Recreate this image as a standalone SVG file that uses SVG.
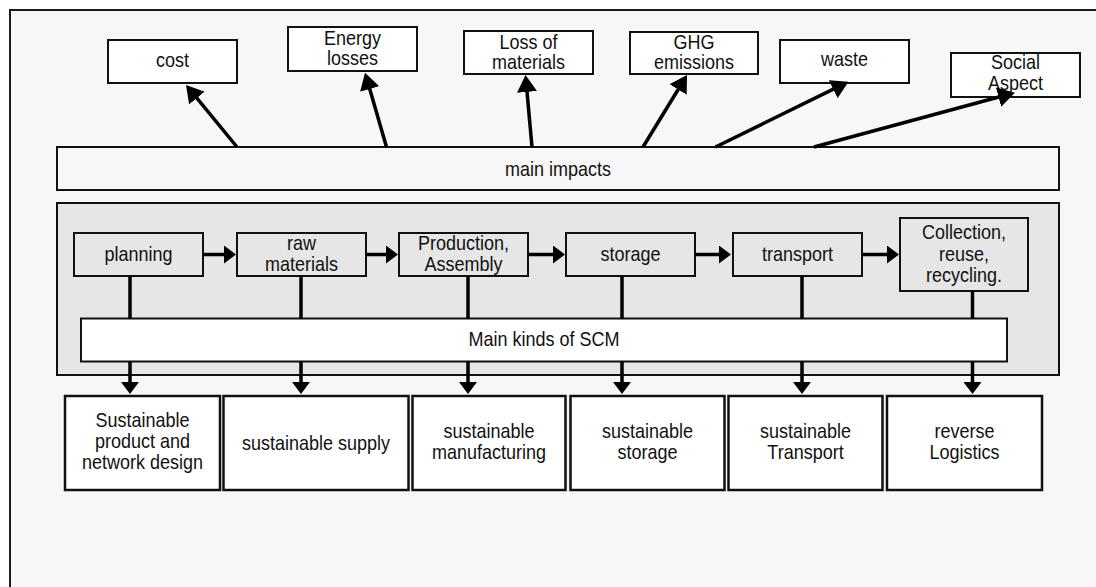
<svg xmlns="http://www.w3.org/2000/svg" width="1096" height="587" viewBox="0 0 1096 587">
  <style>
    text { font-family: "Liberation Sans", Arial, sans-serif; font-size: 20px; fill: #111; text-anchor: middle; transform-box: fill-box; transform-origin: center; transform: scaleX(0.9); }
    .box { fill: #ffffff; stroke: #111; stroke-width: 2; }
    .bbox { fill: #ffffff; stroke: #111; stroke-width: 2.5; }
    .gbox { fill: #e6e6e6; stroke: #111; stroke-width: 2; }
    .conn { stroke: #000; stroke-width: 3.5; fill: none; }
    .plain { stroke: #000; stroke-width: 3.5; fill: none; }
  </style>
  <defs>
    <marker id="ah" markerUnits="userSpaceOnUse" markerWidth="17" markerHeight="20" refX="7" refY="10" orient="auto" viewBox="0 0 17 20">
      <path d="M0,0 L17,10 L0,20 z" fill="#000"/>
    </marker>
    <marker id="ahs" markerUnits="userSpaceOnUse" markerWidth="12" markerHeight="18" refX="2" refY="9" orient="auto" viewBox="0 0 12 18">
      <path d="M0,0 L12,9 L0,18 z" fill="#000"/>
    </marker>
  </defs>
  <rect x="0" y="0" width="1096" height="587" fill="#ffffff"/>
  <rect id="frame" x="10" y="10" width="1100" height="600" fill="#f7f7f7" stroke="#1a1a1a" stroke-width="2"/>

  <g id="cost"><rect class="box" x="108" y="40" width="129" height="43"/><text x="172.5" y="67">cost</text></g>
  <g id="energy"><rect class="box" x="288" y="27" width="129" height="44"/><text x="352.5" y="45">Energy</text><text x="352.5" y="65">losses</text></g>
  <g id="loss"><rect class="box" x="464" y="31" width="129" height="43"/><text x="528.5" y="49">Loss of</text><text x="528.5" y="69">materials</text></g>
  <g id="ghg"><rect class="box" x="630" y="32" width="128" height="42"/><text x="694" y="49.5">GHG</text><text x="694" y="69.5">emissions</text></g>
  <g id="waste"><rect class="box" x="780" y="40" width="129" height="43"/><text x="844.5" y="66.5">waste</text></g>
  <g id="social"><rect class="box" x="951" y="53" width="129" height="44"/><text x="1015.5" y="69.5">Social</text><text x="1015.5" y="90.5">Aspect</text></g>

  <g id="impacts"><rect x="57" y="147" width="1002" height="43" fill="#f7f7f7" stroke="#111" stroke-width="2"/><text x="558" y="176">main impacts</text></g>

  <g id="panel"><rect class="gbox" x="57" y="203" width="1002" height="172"/></g>

  <g id="planning"><rect class="gbox" x="74" y="233" width="129" height="43"/><text x="138.5" y="261">planning</text></g>
  <g id="raw"><rect class="gbox" x="237" y="233" width="129" height="43"/><text x="301.5" y="250">raw</text><text x="301.5" y="271.5">materials</text></g>
  <g id="production"><rect class="gbox" x="399" y="233" width="129" height="43"/><text x="463.5" y="250">Production,</text><text x="463.5" y="271.5">Assembly</text></g>
  <g id="storage"><rect class="gbox" x="566" y="233" width="129" height="43"/><text x="630.5" y="261">storage</text></g>
  <g id="transport"><rect class="gbox" x="733" y="233" width="129" height="43"/><text x="797.5" y="261">transport</text></g>
  <g id="collection"><rect class="gbox" x="900" y="218" width="128" height="73"/><text x="964" y="239.5">Collection,</text><text x="964" y="261">reuse,</text><text x="964" y="282">recycling.</text></g>

  <g id="scm"><rect class="box" x="81" y="318.5" width="926" height="43"/><text x="544" y="346.5">Main kinds of SCM</text></g>

  <g id="b1"><rect class="bbox" x="65" y="396" width="155" height="94"/><text x="142.5" y="427.5">Sustainable</text><text x="142.5" y="448.5">product and</text><text x="142.5" y="469.5">network design</text></g>
  <g id="b2"><rect class="bbox" x="223.5" y="396" width="185" height="94"/><text x="316" y="450">sustainable supply</text></g>
  <g id="b3"><rect class="bbox" x="412.5" y="396" width="153" height="94"/><text x="489" y="438.5">sustainable</text><text x="489" y="459.5">manufacturing</text></g>
  <g id="b4"><rect class="bbox" x="570.5" y="396" width="154" height="94"/><text x="647.5" y="438.5">sustainable</text><text x="647.5" y="459.5">storage</text></g>
  <g id="b5"><rect class="bbox" x="728.5" y="396" width="154" height="94"/><text x="805.5" y="438.5">sustainable</text><text x="805.5" y="459.5">Transport</text></g>
  <g id="b6"><rect class="bbox" x="887" y="396" width="155" height="94"/><text x="964.5" y="438.5">reverse</text><text x="964.5" y="459.5">Logistics</text></g>

  <g id="connectors">
    <line class="conn" x1="237" y1="147" x2="192.4" y2="92.7" marker-end="url(#ah)"/>
    <line class="conn" x1="386.5" y1="147" x2="367.8" y2="82.3" marker-end="url(#ah)"/>
    <line class="conn" x1="532" y1="147" x2="526.4" y2="85" marker-end="url(#ah)"/>
    <line class="conn" x1="643" y1="147" x2="681.8" y2="83.5" marker-end="url(#ah)"/>
    <line class="conn" x1="715.5" y1="147" x2="839.5" y2="86.1" marker-end="url(#ah)"/>
    <line class="conn" x1="814" y1="147" x2="1005.3" y2="95.3" marker-end="url(#ah)"/>

    <line class="conn" x1="203" y1="254.5" x2="226" y2="254.5" marker-end="url(#ahs)"/>
    <line class="conn" x1="366" y1="254.5" x2="388" y2="254.5" marker-end="url(#ahs)"/>
    <line class="conn" x1="528" y1="254.5" x2="555" y2="254.5" marker-end="url(#ahs)"/>
    <line class="conn" x1="695" y1="254.5" x2="721" y2="254.5" marker-end="url(#ahs)"/>
    <line class="conn" x1="862" y1="254.5" x2="889" y2="254.5" marker-end="url(#ahs)"/>

    <line class="plain" x1="130" y1="276" x2="130" y2="318.5"/>
    <line class="plain" x1="301" y1="276" x2="301" y2="318.5"/>
    <line class="plain" x1="468" y1="276" x2="468" y2="318.5"/>
    <line class="plain" x1="622" y1="276" x2="622" y2="318.5"/>
    <line class="plain" x1="802" y1="276" x2="802" y2="318.5"/>
    <line class="plain" x1="972.5" y1="291" x2="972.5" y2="318.5"/>

    <line class="conn" x1="130" y1="361.7" x2="130" y2="384" marker-end="url(#ahs)"/>
    <line class="conn" x1="301" y1="361.7" x2="301" y2="384" marker-end="url(#ahs)"/>
    <line class="conn" x1="468" y1="361.7" x2="468" y2="384" marker-end="url(#ahs)"/>
    <line class="conn" x1="622" y1="361.7" x2="622" y2="384" marker-end="url(#ahs)"/>
    <line class="conn" x1="802" y1="361.7" x2="802" y2="384" marker-end="url(#ahs)"/>
    <line class="conn" x1="972.5" y1="361.7" x2="972.5" y2="384" marker-end="url(#ahs)"/>
  </g>
</svg>
